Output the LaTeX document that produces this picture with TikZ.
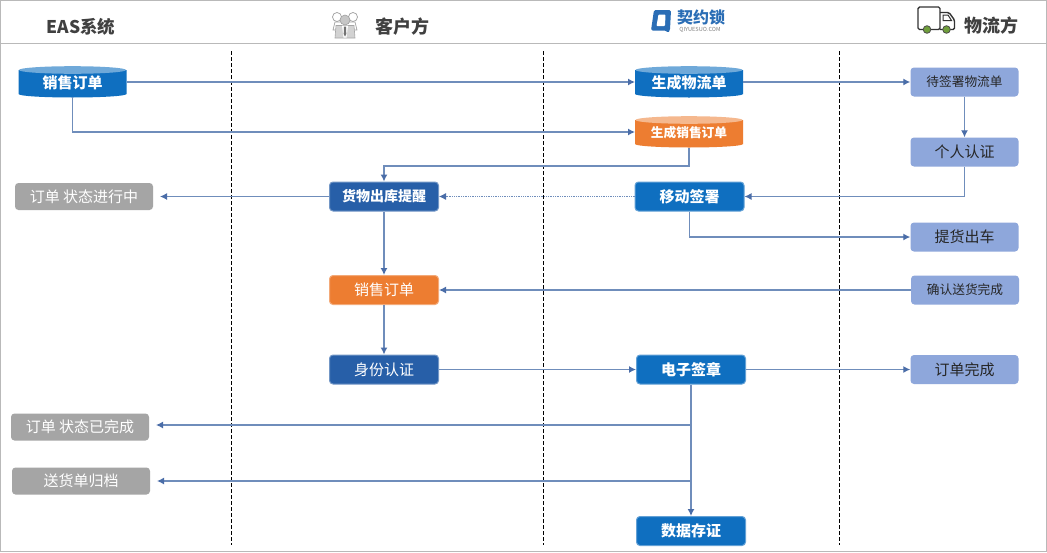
\documentclass[tikz,border=0pt]{standalone}
\usepackage{fontspec}
\setmainfont{Noto Sans CJK SC}
\usetikzlibrary{arrows.meta,shapes.geometric}
\definecolor{blueA}{HTML}{0F6FC0}
\definecolor{blueD}{HTML}{275FA8}
\definecolor{orangeA}{HTML}{ED7D31}
\definecolor{peri}{HTML}{8EA7DB}
\definecolor{grayA}{HTML}{A5A5A5}
\definecolor{wire}{HTML}{6F8DBB}
\definecolor{tipC}{HTML}{4A6DA8}
\definecolor{frameC}{HTML}{B9B9B9}
\definecolor{logoC}{HTML}{2A6DB5}
\definecolor{wheelC}{HTML}{6F9E3B}
\tikzset{
 x=1pt,y=-1pt,
 boxbase/.style={rounded corners=3.5pt,minimum height=29pt,inner sep=0pt,font=\fontsize{15}{15}\selectfont,text=white},
 blueb/.style={boxbase,fill=blueA,draw=blueA!65!white,line width=1pt,minimum width=109pt,font=\fontsize{15}{15}\bfseries\selectfont},
 darkb/.style={boxbase,fill=blueD,draw=blueD!65!white,line width=1pt,minimum width=109pt},
 orangeb/.style={boxbase,fill=orangeA,draw=orangeA!65!white,line width=1pt,minimum width=109pt},
 perib/.style={boxbase,fill=peri,minimum width=108pt,text=black!85},
 grayb/.style={boxbase,fill=grayA,minimum width=138pt,minimum height=27pt},
 conn/.style={draw=wire,line width=1.3pt,-{Latex[length=7pt,width=7pt,color=tipC]}},
 lane/.style={draw=black,line width=.8pt,dash pattern=on 3.5pt off 2.5pt},
 head/.style={font=\fontsize{18}{18}\bfseries\selectfont,text=black!75},
 drumtext/.style={font=\fontsize{15}{15}\bfseries\selectfont,text=white},
}
\newcommand{\drum}[4]{% cx, top-ellipse centre y, body fill, top fill
 \fill[#3] (#1-54,#2) -- (#1-54,#2+24) arc[start angle=180,end angle=0,x radius=54,y radius=3.5] -- (#1+54,#2) -- cycle;
 \fill[#4] (#1,#2) ellipse[x radius=53.5,y radius=3.8];
}
\begin{document}
\begin{tikzpicture}
\useasboundingbox (0,0) rectangle (1047,552);
\fill[white] (0,0) rectangle (1047,552);
\draw[frameC,line width=1pt] (.5,.5) rectangle (1046.5,551.5);
\draw[frameC,line width=1pt] (0,43.5) -- (1047,43.5);
\foreach \xx in {231.5,543,839.5}{\draw[lane] (\xx,51) -- (\xx,545);}
% headers
\node[head,font=\fontsize{17.5}{18}\bfseries\selectfont] (hEAS) at (81,26.5) {EAS系统};
\node[head] (hCli) at (402,26.5) {客户方};
\node[head] (hLog) at (991.5,25.5) {物流方};
% client icon
\begin{scope}[shift={(345,25)}]
 \draw[gray!75,fill=white,line width=.7pt] (-8,-8) circle (4.5);
 \draw[gray!75,fill=white,line width=.7pt] (8,-8) circle (4.5);
 \draw[gray!75,fill=white,line width=.7pt] (-12,5) -- (-10,-3) -- (10,-3) -- (12,5) -- cycle;
 \fill[gray!45,draw=gray!75,line width=.6pt] (0,-5) circle (5);
 \fill[gray!35,draw=gray!70,line width=.6pt] (-9,0.5) -- (9,0.5) -- (10,13) -- (-10,13) -- cycle;
 \fill[white] (-3,0.5) -- (3,0.5) -- (1.5,12.5) -- (-1.5,12.5) -- cycle;
 \fill[gray!90!black] (-1,1.5) -- (1,1.5) -- (1.3,9) -- (0,11.5) -- (-1.3,9) -- cycle;
\end{scope}
% qiyuesuo logo
\fill[logoC,rounded corners=1.5pt] (654,10) -- (671,10) -- (670,30) -- (668,33) -- (666,30.5) -- (651,30.5) -- cycle;
\fill[white,rounded corners=.8pt] (658.5,14.5) -- (665.5,14.5) -- (665,26) -- (656.5,26) -- cycle;
\node[font=\fontsize{16}{16}\bfseries\selectfont,text=logoC,inner sep=0pt] (logoT) at (701,17.5) {契约锁};
\node[font=\fontsize{5.6}{6}\selectfont,text=gray,inner sep=0pt] (logoS) at (700,30) {QIYUESUO.COM};
% truck
\begin{scope}[line width=1.4pt,draw=black!80]
 \draw[rounded corners=1.5pt] (918,29.5) -- (918,7) -- (940,7) -- (940,29.5) -- cycle;
 \draw[rounded corners=1.5pt] (940,12.5) -- (949,12.5) -- (954.5,20) -- (954.5,29.5) -- (940,29.5);
 \draw[line width=1pt] (943,15) -- (948,15) -- (951.5,20.5) -- (943,20.5) -- cycle;
 \fill[wheelC,draw=black!70,line width=.8pt] (927,29.5) circle (3.8);
 \fill[wheelC,draw=black!70,line width=.8pt] (946.5,29.5) circle (3.8);
\end{scope}
% drums
\drum{72.5}{70}{blueA}{blueA!60!white}
\node[drumtext] (so) at (72.5,83) {销售订单};
\drum{689}{70}{blueA}{blueA!60!white}
\node[drumtext] (gen) at (689,83) {生成物流单};
\drum{689}{120}{orangeA}{orangeA!55!white}
\node[drumtext,font=\fontsize{12.7}{14}\bfseries\selectfont] (gso) at (689,133) {生成销售订单};
% boxes
\node[darkb] (ck) at (384,196.5) {\fontsize{14}{14}\bfseries\selectfont 货物出库提醒};
\node[blueb] (mob) at (689.5,196.5) {移动签署};
\node[orangeb] (xs) at (384,290) {销售订单};
\node[darkb] (sf) at (384,369.5) {身份认证};
\node[blueb] (dz) at (691,369.5) {电子签章};
\node[blueb] (sj) at (691,531) {数据存证};
\node[perib] (dq) at (964.5,82) {\fontsize{12.7}{14}\selectfont 待签署物流单};
\node[perib] (gr) at (964.5,152) {个人认证};
\node[perib] (th) at (964.5,237) {提货出车};
\node[perib] (qr) at (965,290) {\fontsize{12.7}{14}\selectfont 确认送货完成};
\node[perib] (wc) at (964.5,369.5) {订单完成};
\node[grayb] (g1) at (84,196.5) {订单 状态进行中};
\node[grayb] (g2) at (80,427) {订单 状态已完成};
\node[grayb] (g3) at (81,481) {送货单归档};
% junction coordinates
\coordinate (soD) at (72.5,97);
\coordinate (soR) at (127,82);
\coordinate (genL) at (635,82);
\coordinate (gsoL) at (635,132);
\coordinate (genR) at (743,82);
\coordinate (gsoD) at (689,148);
\coordinate (j1) at (691,425);
\coordinate (j2) at (691,481);
\coordinate (g1T) at (160,196.5);
\coordinate (g2T) at (156,425);
\coordinate (g3T) at (157,481);
% connectors
\draw[conn] (soR) -- (genL);
\draw[conn] (soD) |- (gsoL);
\draw[conn] (genR) -- (dq.west);
\draw[conn] (dq) -- (gr);
\draw[conn] (gr.south) |- (mob.east);
\draw[conn] (gsoD) |- ++(-305,18) -- (ck.north);
\draw[conn,densely dotted,line width=.8pt] (mob.west) -- (ck.east);
\draw[conn] (ck.west) -- (g1T);
\draw[conn] (ck) -- (xs);
\draw[conn] (xs) -- (sf);
\draw[conn] (mob.south) |- (th.west);
\draw[conn] (qr.west) -- (xs.east);
\draw[conn] (sf) -- (dz);
\draw[conn] (dz) -- (wc);
\draw[conn] (dz) -- (sj);
\draw[conn] (j1) -- (g2T);
\draw[conn] (j2) -- (g3T);
\end{tikzpicture}
\end{document}
